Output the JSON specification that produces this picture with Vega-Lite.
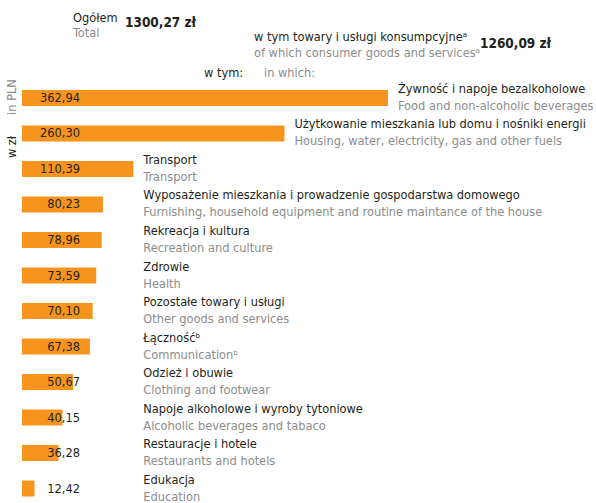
{
  "$schema": "https://vega.github.io/schema/vega-lite/v6.json",
  "width": 596,
  "height": 503,
  "autosize": {"type": "none"},
  "padding": 0,
  "background": "white",
  "config": {
    "view": {"stroke": null},
    "locale": {"number": {"decimal": ",", "thousands": " ", "grouping": [3], "currency": ["", " zł"]}},
    "text": {"font": "DejaVu Sans Condensed", "fontSize": 12.7}
  },
  "data": {
    "values": [
      {"pl": "Żywność i napoje bezalkoholowe", "en": "Food and non-alcoholic beverages", "value": 362.94},
      {"pl": "Użytkowanie mieszkania lub domu i nośniki energii", "en": "Housing, water, electricity, gas and other fuels", "value": 260.30},
      {"pl": "Transport", "en": "Transport", "value": 110.39},
      {"pl": "Wyposażenie mieszkania i prowadzenie gospodarstwa domowego", "en": "Furnishing, household equipment and routine maintance of the house", "value": 80.23},
      {"pl": "Rekreacja i kultura", "en": "Recreation and culture", "value": 78.96},
      {"pl": "Zdrowie", "en": "Health", "value": 73.59},
      {"pl": "Pozostałe towary i usługi", "en": "Other goods and services", "value": 70.10},
      {"pl": "Łącznośćᵇ", "en": "Communicationᵇ", "value": 67.38},
      {"pl": "Odzież i obuwie", "en": "Clothing and footwear", "value": 50.67},
      {"pl": "Napoje alkoholowe i wyroby tytoniowe", "en": "Alcoholic beverages and tabaco", "value": 40.15},
      {"pl": "Restauracje i hotele", "en": "Restaurants and hotels", "value": 36.28},
      {"pl": "Edukacja", "en": "Education", "value": 12.42}
    ]
  },
  "transform": [{"calculate": "max(datum.value, 110.39)", "as": "labelAt"}],
  "encoding": {
    "y": {"field": "pl", "type": "nominal", "sort": null, "axis": null,
      "scale": {"range": [90, 496.5], "paddingInner": 0.5493, "paddingOuter": 0}}
  },
  "layer": [
    {
      "mark": {"type": "bar", "color": "#F7941D"},
      "encoding": {
        "x": {"field": "value", "type": "quantitative", "axis": null,
          "scale": {"domain": [-21.816, 569.2], "zero": false, "nice": false}},
        "x2": {"datum": 0}
      }
    },
    {
      "mark": {"type": "text", "align": "right", "baseline": "middle", "dx": 58, "color": "#231F20"},
      "encoding": {
        "x": {"datum": 0},
        "text": {"field": "value", "type": "quantitative", "format": ".2f"}
      }
    },
    {
      "mark": {"type": "text", "align": "left", "baseline": "middle", "dx": 10, "dy": -9, "color": "#231F20"},
      "encoding": {
        "x": {"field": "labelAt", "type": "quantitative"},
        "text": {"field": "pl", "type": "nominal"}
      }
    },
    {
      "mark": {"type": "text", "align": "left", "baseline": "middle", "dx": 10, "dy": 8, "color": "#8C8C8C"},
      "encoding": {
        "x": {"field": "labelAt", "type": "quantitative"},
        "text": {"field": "en", "type": "nominal"}
      }
    },
    {
      "data": {"values": [
        {"t": "Ogółem", "c": "black", "x": 73, "y": 18},
        {"t": "Total", "c": "gray", "x": 73, "y": 33},
        {"t": "w tym towary i usługi konsumpcyjneᵃ", "c": "black", "x": 254, "y": 37},
        {"t": "of which consumer goods and servicesᵃ", "c": "gray", "x": 254, "y": 53},
        {"t": "w tym:", "c": "black", "x": 204, "y": 73},
        {"t": "in which:", "c": "gray", "x": 264, "y": 73}
      ]},
      "mark": {"type": "text", "align": "left", "baseline": "middle"},
      "encoding": {
        "x": {"field": "x", "type": "quantitative", "scale": null},
        "y": {"field": "y", "type": "quantitative", "scale": null},
        "text": {"field": "t"},
        "color": {"field": "c", "type": "nominal", "scale": {"domain": ["black", "gray"], "range": ["#231F20", "#8C8C8C"]}, "legend": null}
      }
    },
    {
      "data": {"values": [
        {"t": "1300,27 zł", "x": 125, "y": 23},
        {"t": "1260,09 zł", "x": 480, "y": 44}
      ]},
      "mark": {"type": "text", "align": "left", "baseline": "middle", "fontWeight": "bold", "fontSize": 13.5, "color": "#231F20"},
      "encoding": {
        "x": {"field": "x", "type": "quantitative", "scale": null},
        "y": {"field": "y", "type": "quantitative", "scale": null},
        "text": {"field": "t"}
      }
    },
    {
      "data": {"values": [
        {"t": "w zł", "c": "black", "y": 147},
        {"t": "in PLN", "c": "gray", "y": 97}
      ]},
      "mark": {"type": "text", "align": "center", "baseline": "middle", "angle": 270},
      "encoding": {
        "x": {"datum": -10},
        "y": {"field": "y", "type": "quantitative", "scale": null},
        "text": {"field": "t"},
        "color": {"field": "c", "type": "nominal", "scale": {"domain": ["black", "gray"], "range": ["#231F20", "#8C8C8C"]}, "legend": null}
      }
    }
  ]
}
